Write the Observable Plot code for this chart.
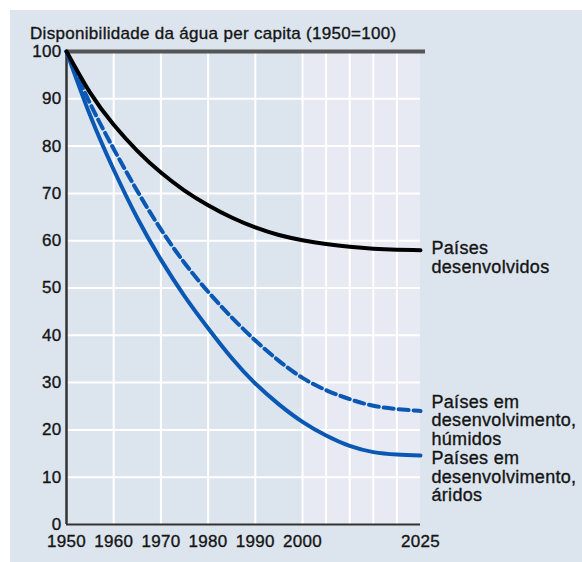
<!DOCTYPE html>
<html>
<head>
<meta charset="utf-8">
<script src="https://cdn.jsdelivr.net/npm/d3@7"></script>
<script src="https://cdn.jsdelivr.net/npm/@observablehq/plot@0.6"></script>
<style>
  html, body { margin: 0; padding: 0; background: #ffffff; }
  #panel { position: absolute; left: 10px; top: 10px; width: 572px; height: 552px; background: #dce5ee; }
  #title { position: absolute; left: 30px; top: 27px; font-family: "Liberation Sans", Arial, sans-serif; font-size: 17px; line-height: 14px; letter-spacing: 0.3px; color: #151515; white-space: nowrap; -webkit-text-stroke: 0.35px #151515; }
  #chart { position: absolute; left: 0; top: 40px; }
  #chart svg text { stroke: #151515; stroke-width: 0.35px; }
</style>
</head>
<body>
<div id="panel"></div>
<div id="title">Disponibilidade da água per capita (1950=100)</div>
<div id="chart"></div>
<script>
const years      = [1950, 1955, 1960, 1965, 1970, 1975, 1980, 1985, 1990, 1995, 2000, 2005, 2010, 2015, 2020, 2025];
const developed  = [100, 91.3, 84.5, 79, 74.4, 70.6, 67.5, 64.9, 62.8, 61.2, 60.1, 59.3, 58.7, 58.3, 58.1, 58];
const humid      = [100, 89, 79.4, 70.5, 62.4, 55.3, 49.2, 43.8, 38.9, 34.6, 31.0, 28.4, 26.5, 25.1, 24.4, 24.0];
const arid       = [100, 86.5, 75, 64.8, 56, 48.3, 41.5, 35.2, 29.8, 25.4, 21.7, 18.8, 16.6, 15.3, 14.8, 14.6];
const seriesLabels = ["Países\ndesenvolvidos", "Países em\ndesenvolvimento,\nhúmidos", "Países em\ndesenvolvimento,\náridos"];
const xTickLabels = [1950, 1960, 1970, 1980, 1990, 2000, 2025];
const xGridYears  = [1960, 1970, 1980, 1990, 2000, 2005, 2010, 2015, 2020];
const yTickLabels = [0, 10, 20, 30, 40, 50, 60, 70, 80, 90, 100];
const yGridValues = [10, 20, 30, 40, 50, 60, 70, 80, 90];
const projectionStart = 2000;
const firstYear = 1950, lastYear = 2025;

const seriesValues = [developed, humid, arid];
const rows = seriesValues.flatMap((vals, s) => years.map((year, i) => ({series: s, year, value: vals[i]})));
const ends = seriesValues.map((vals, s) => ({series: s, year: years[years.length - 1], value: vals[vals.length - 1], label: seriesLabels[s]}));

const blue = "#0a58b4";
const textColor = "#151515";

const chart = Plot.plot({
  width: 582,
  height: 522,
  marginLeft: 66,
  marginRight: 162,
  marginTop: 11,
  marginBottom: 38,
  style: {background: "transparent", fontFamily: "'Liberation Sans', Arial, sans-serif", fontSize: "17px", letterSpacing: "0.3px", color: textColor, overflow: "visible"},
  x: {domain: [firstYear, lastYear], label: null},
  y: {domain: [0, 100], label: null},
  marks: [
    Plot.rect([{x1: projectionStart, x2: lastYear, y1: 0, y2: 100}], {x1: "x1", x2: "x2", y1: "y1", y2: "y2", fill: "#e7eaf2"}),
    Plot.ruleX(xGridYears, {y1: 0, y2: 100, stroke: "#ffffff", strokeWidth: 2}),
    Plot.ruleY(yGridValues, {x1: firstYear, x2: lastYear, stroke: "#ffffff", strokeWidth: 2}),
    Plot.ruleY([100], {x1: firstYear, x2: lastYear, stroke: "#555555", strokeWidth: 4, insetRight: -5}),
    Plot.ruleX([firstYear], {y1: 0, y2: 100, stroke: "#333333", strokeWidth: 2.5}),
    Plot.ruleY([0], {x1: firstYear, x2: lastYear, stroke: "#333333", strokeWidth: 2}),
    Plot.line(rows.filter(d => d.series === 2), {x: "year", y: "value", stroke: blue, strokeWidth: 4, curve: "natural"}),
    Plot.line(rows.filter(d => d.series === 1), {x: "year", y: "value", stroke: blue, strokeWidth: 4, strokeDasharray: "10,5", curve: "natural"}),
    Plot.line(rows.filter(d => d.series === 0), {x: "year", y: "value", stroke: "#000000", strokeWidth: 4, curve: "natural"}),
    Plot.text(ends.filter(d => d.series === 0), {x: "year", y: "value", text: "label", textAnchor: "start", lineAnchor: "top", dx: 11, dy: -9, fontSize: 18, lineHeight: 1.02, letterSpacing: "0.6px", fill: textColor}),
    Plot.text(ends.filter(d => d.series === 1), {x: "year", y: "value", text: "label", textAnchor: "start", lineAnchor: "top", dx: 11, dy: -16, fontSize: 18, lineHeight: 1.02, letterSpacing: "0.6px", fill: textColor}),
    Plot.text(ends.filter(d => d.series === 2), {x: "year", y: "value", text: "label", textAnchor: "start", lineAnchor: "top", dx: 11, dy: -4, fontSize: 18, lineHeight: 1.02, letterSpacing: "0.6px", fill: textColor}),
    Plot.axisX({ticks: xTickLabels, tickFormat: d => String(d), tickSize: 0, tickPadding: 10, fill: textColor}),
    Plot.axisY({ticks: yTickLabels, tickSize: 0, tickPadding: 5, fill: textColor})
  ]
});
document.getElementById("chart").appendChild(chart);
</script>
</body>
</html>
